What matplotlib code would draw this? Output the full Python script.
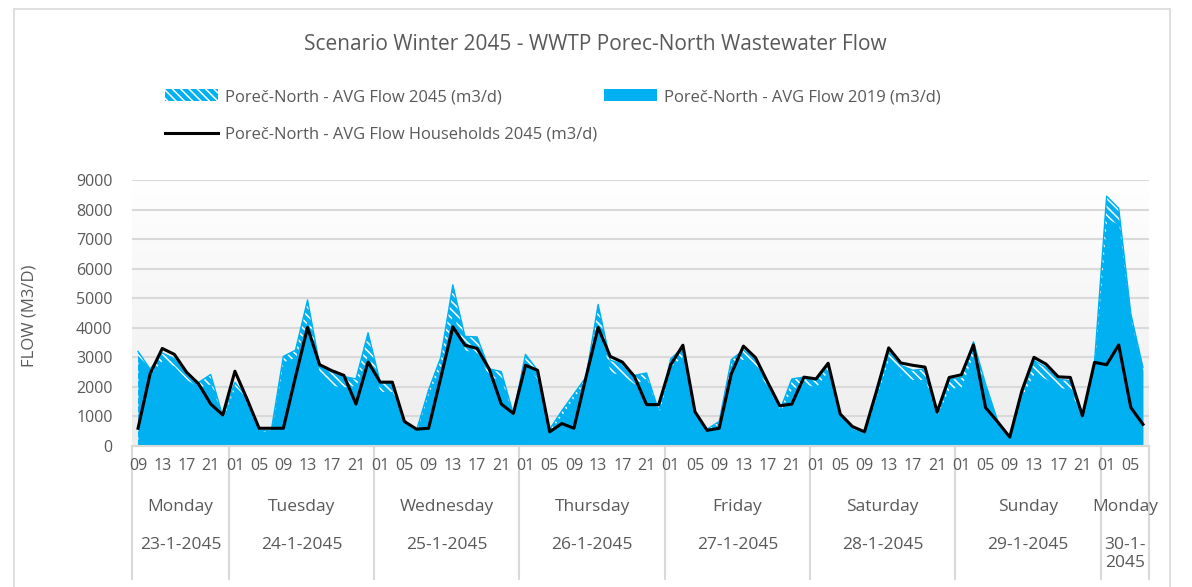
import numpy as np
import matplotlib
matplotlib.use("Agg")
import matplotlib.pyplot as plt
from matplotlib.patches import Patch, Rectangle
from matplotlib.lines import Line2D
from matplotlib.colors import LinearSegmentedColormap
import matplotlib.transforms as mtransforms

plt.rcParams['font.family'] = ['Open Sans', 'DejaVu Sans']
plt.rcParams['hatch.linewidth'] = 1.1

# ---------------- data ----------------
day_names = ["Monday", "Tuesday", "Wednesday", "Thursday", "Friday",
             "Saturday", "Sunday", "Monday"]
day_dates = ["23-1-2045", "24-1-2045", "25-1-2045", "26-1-2045",
             "27-1-2045", "28-1-2045", "29-1-2045", "30-1-\n2045"]
first_day_hours = ["09", "11", "13", "15", "17", "19", "21", "23"]
full_day_hours = ["01", "03", "05", "07", "09", "11", "13", "15", "17", "19", "21", "23"]
last_day_hours = ["01", "03", "05", "07"]

flow_2045 = [3200, 2600, 3150, 2950, 2450, 2150, 2420, 1000,
             2150, 1650, 530, 510, 3030, 3240, 4940, 2730, 2500, 2350, 2270, 3830,
             2160, 2100, 850, 530, 1900, 2990, 5450, 3710, 3690, 2610, 2520, 1080,
             3100, 2560, 570, 1190, 1760, 2330, 4790, 2900, 2780, 2390, 2470, 1190,
             2950, 3330, 1140, 570, 830, 2920, 3250, 2950, 2100, 1190, 2270, 2330,
             2215, 2730, 1080, 630, 455, 1700, 3200, 2730, 2560, 2610, 1080, 2260,
             2320, 3530, 2100, 850, 280, 1750, 2890, 2660, 2260, 2210, 905, 2830,
             8450, 8040, 4470, 2660]
flow_2019 = [3000, 2450, 2900, 2700, 2250, 2000, 2100, 950,
             2000, 1550, 500, 500, 2850, 3000, 4300, 2450, 2050, 2000, 2050, 3100,
             1850, 1850, 800, 500, 1800, 2700, 4500, 3250, 3150, 2350, 2250, 1000,
             2800, 2250, 500, 1050, 1650, 2200, 4100, 2500, 2400, 2100, 2300, 1100,
             2700, 3050, 1100, 550, 750, 2750, 2950, 2650, 2000, 1150, 1950, 2100,
             2000, 2550, 1050, 600, 430, 1650, 2950, 2400, 2250, 2250, 1050, 1950,
             2000, 3150, 2000, 820, 270, 1700, 2450, 2270, 2000, 1900, 880, 2750,
             7700, 7500, 4250, 2550]
flow_households_2045 = [600, 2450, 3300, 3100, 2500, 2100, 1420, 1050,
                        2530, 1590, 600, 600, 600, 2330, 4010, 2750, 2550, 2390, 1420, 2840,
                        2160, 2160, 830, 570, 600, 2300, 4030, 3410, 3300, 2610, 1420, 1100,
                        2730, 2560, 480, 760, 600, 2330, 4010, 3030, 2840, 2350, 1400, 1400,
                        2750, 3410, 1160, 530, 600, 2440, 3380, 2990, 2160, 1360, 1420, 2330,
                        2270, 2800, 1080, 660, 480, 1870, 3320, 2810, 2730, 2670, 1150, 2320,
                        2410, 3420, 1300, 815, 300, 1870, 3000, 2770, 2340, 2320, 1020, 2830,
                        2750, 3420, 1300, 735]
y_ticks = [0, 1000, 2000, 3000, 4000, 5000, 6000, 7000, 8000, 9000]

# ---------------- layout ----------------
W, H = 1192, 587
fig = plt.figure(figsize=(W / 100, H / 100), dpi=100)
fig.patch.set_facecolor('white')

ax_l, ax_r, ax_t, ax_b = 132, 1149, 180, 446
ax = fig.add_axes([ax_l / W, 1 - ax_b / H, (ax_r - ax_l) / W, (ax_b - ax_t) / H])

day_hours = [first_day_hours] + [full_day_hours] * 6 + [last_day_hours]
hour_labels = [h for d in day_hours for h in d]
n = len(hour_labels)
x = np.arange(n) + 0.5

BLUE = '#00B0F0'
GREY = '#595959'
LINE = '#d9d9d9'
HATCH = '\\\\\\\\'

# gradient background
cmap = LinearSegmentedColormap.from_list('g', ['#ffffff', '#ededed'])
grad = np.linspace(0, 1, 256)[:, None]
ax.imshow(grad, extent=[0, n, 0, 9000], aspect='auto', cmap=cmap,
          origin='upper', zorder=-2)

ax.fill_between(x, flow_2045, 0, facecolor=BLUE, edgecolor='white',
                hatch=HATCH, linewidth=0, zorder=2)
ax.plot(x, flow_2045, color=BLUE, lw=1.0, zorder=2.5)
ax.fill_between(x, flow_2019, 0, facecolor=BLUE, edgecolor=BLUE,
                linewidth=0, zorder=3)
ax.plot(x, flow_households_2045, color='black', lw=2.2, zorder=4)

ax.set_xlim(0, n)
ax.set_ylim(0, 9000)
ax.set_yticks(y_ticks)
ax.set_yticklabels([str(v) for v in y_ticks], fontsize=11.5, color=GREY)
ax.grid(axis='y', color=LINE, lw=1.5, zorder=-1)
ax.set_axisbelow(True)
for s in ['top', 'right', 'left']:
    ax.spines[s].set_visible(False)
ax.spines['bottom'].set_color(LINE)
ax.spines['bottom'].set_linewidth(1.5)
ax.spines['bottom'].set_zorder(5)

# hour tick labels (every other category within a day)
tick_pos, tick_lab = [], []
start = 0
bounds = [0]
for hrs in day_hours:
    for j, h in enumerate(hrs):
        if j % 2 == 0:
            tick_pos.append(start + j + 0.5)
            tick_lab.append(h)
    start += len(hrs)
    bounds.append(start)
ax.set_xticks(tick_pos)
ax.set_xticklabels(tick_lab, fontsize=11.5, color=GREY)
ax.tick_params(axis='both', length=0)
ax.tick_params(axis='y', pad=14)
ax.tick_params(axis='x', pad=9)

trans = mtransforms.blended_transform_factory(ax.transData, ax.transAxes)
axh = ax_b - ax_t
sep_bottom = (ax_b - 580) / axh
ax.vlines(bounds, sep_bottom, 0, transform=trans, colors=LINE, lw=1.5, clip_on=False,
          zorder=0.5)
for k in range(len(day_hours)):
    cx = (bounds[k] + bounds[k + 1]) / 2
    ax.text(cx, (ax_b - 507) / axh, day_names[k], transform=trans, ha='center',
            va='center', fontsize=12.5, color=GREY, clip_on=False)
    ax.text(cx, (ax_b - 537) / axh, day_dates[k], transform=trans, ha='center',
            va='top', fontsize=12.5, color=GREY, clip_on=False, linespacing=1.2)

# title & axis label
fig.text(595.5 / W, 1 - 45 / H, 'Scenario Winter 2045 - WWTP Porec-North Wastewater Flow',
         ha='center', va='center', fontsize=15, color=GREY)
fig.text(30 / W, 1 - 316 / H, 'FLOW (M3/D)', rotation=90, ha='center', va='center',
         fontsize=12, color=GREY)

# legend
handles = [Patch(facecolor=BLUE, edgecolor='white', hatch=HATCH, lw=0),
           Line2D([0], [0], color='black', lw=2.2),
           Patch(facecolor=BLUE, edgecolor=BLUE, lw=0)]
labels = ['Poreč-North - AVG Flow 2045 (m3/d)',
          'Poreč-North - AVG Flow Households 2045 (m3/d)',
          'Poreč-North - AVG Flow 2019 (m3/d)']
leg = fig.legend(handles, labels, loc='upper left', bbox_to_anchor=(165 / W, 1 - 89 / H),
                 bbox_transform=fig.transFigure, ncol=2, frameon=False, fontsize=11.9,
                 handlelength=3.2, handletextpad=0.42, labelspacing=1.3,
                 columnspacing=0.45, borderpad=0, borderaxespad=0)
for t in leg.get_texts():
    t.set_color(GREY)

# chart border
fig.add_artist(Rectangle((13.5 / W, -0.05), (1170 - 13.5) / W, 1 - 8.5 / H + 0.05,
                         transform=fig.transFigure, fill=False, edgecolor=LINE, lw=1.2))

fig.savefig('out.png', dpi=100, facecolor='white')
